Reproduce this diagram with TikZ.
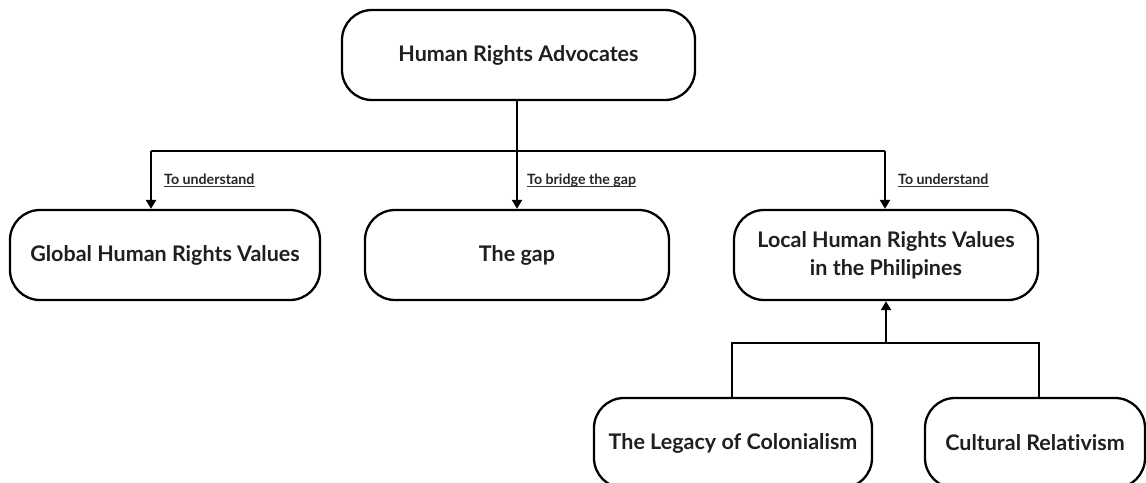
\documentclass[tikz,border=0pt]{standalone}
\usepackage{fontspec}
\setmainfont{Lato}[Ligatures=NoCommon]
\usetikzlibrary{arrows.meta}
\begin{document}
\begin{tikzpicture}[x=1pt,y=-1pt,
  box/.style={draw=black, line width=2.3pt, rounded corners=30pt, fill=white,
    minimum height=90pt, align=center, inner sep=0pt,
    font=\fontsize{21.5}{28}\selectfont\bfseries, text=black!88},
  wire/.style={line width=2.3pt, black},
  arr/.style={wire, -{Triangle[width=10pt,length=9pt]}},
  lbl/.style={anchor=base west, inner sep=0pt,
    font=\fontsize{14.2}{16}\selectfont\bfseries, text=black!85}]
\useasboundingbox[fill=white] (0,0) rectangle (1146,482);

% boxes
\node[box, minimum width=353pt] (hra) at (518.5,55) {Human Rights Advocates};
\node[box, minimum width=310pt] (glob) at (165,255) {Global Human Rights Values};
\node[box, minimum width=304pt] (gap) at (517,255) {The gap};
\node[box, minimum width=304pt] (loc) at (886,255) {Local Human Rights Values\\in the Philipines};
\node[box, minimum width=278pt] (leg) at (733,443) {The Legacy of Colonialism};
\node[box, minimum width=220pt] (cult) at (1035,443) {Cultural Relativism};

% upper bus
\coordinate (jL) at (151,151);
\coordinate (jM) at (517,151);
\coordinate (jR) at (885,151);
\draw[wire] (hra.south -| jM) -- (jM);
\draw[wire] (jL) -- (jR);
\draw[arr] (jL) -- (jL |- glob.north);
\draw[arr] (jM) -- (jM |- gap.north);
\draw[arr] (jR) -- (jR |- loc.north);

% arrow labels, underlined
\node[lbl] (l1) at (164,184) {To understand};
\node[lbl] (l2) at (527,184) {To bridge the gap};
\node[lbl] (l3) at (898,184) {To understand};
\foreach \n in {l1,l2,l3}
  \draw[line width=1.1pt, black!80] ([yshift=-2.2pt]\n.base west) -- ([yshift=-2.2pt]\n.base east);

% lower bus
\coordinate (bL) at (732,343);
\coordinate (bR) at (1039,343);
\draw[wire] (bL |- leg.north) -- (bL) -- (bR) -- (bR |- cult.north);
\draw[arr] (bL -| loc.south) -- (loc.south);
\end{tikzpicture}
\end{document}
